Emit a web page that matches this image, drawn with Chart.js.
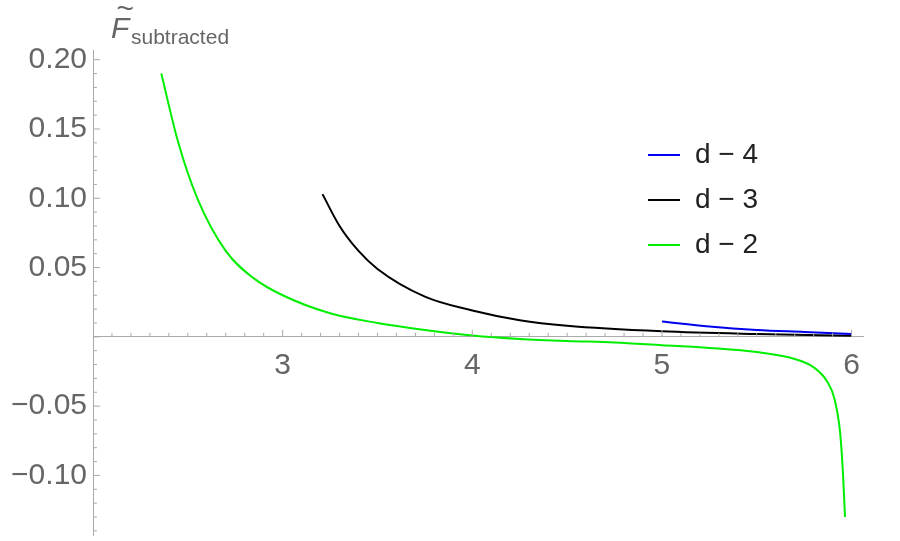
<!DOCTYPE html>
<html><head><meta charset="utf-8">
<script src="https://cdn.jsdelivr.net/npm/chart.js@4"></script>
<style>body{margin:0;background:#fff}#w{width:900px;height:541px}</style>
</head><body><div id="w"><canvas id="c"></canvas></div>
<script>
const greenD = [2.36,2.45,2.55,2.7,2.85,3.0,3.25,3.5,3.75,4.0,4.25,4.5,4.75,5.0,5.25,5.5,5.7,5.8,5.87,5.91,5.94,5.955,5.965];
const greenV = [0.19,0.14,0.10,0.062,0.042,0.030,0.017,0.010,0.005,0.001,-0.0015,-0.003,-0.004,-0.006,-0.008,-0.011,-0.016,-0.022,-0.032,-0.045,-0.07,-0.10,-0.13];
const blackD = [3.21,3.3,3.4,3.5,3.75,4.0,4.25,4.5,5.0,5.5,6.0];
const blackV = [0.103,0.08,0.062,0.049,0.029,0.019,0.012,0.008,0.004,0.002,0.0007];
const blueD = [5.0,5.25,5.5,5.75,6.0];
const blueV = [0.011,0.0075,0.005,0.0035,0.002];
const xTicks = [3,4,5,6];
const yTicks = [-0.10,-0.05,0.05,0.10,0.15,0.20];
const yLabels = ["\u22120.10","\u22120.05","0.05","0.10","0.15","0.20"];
const legendNames = ["d \u2212 4","d \u2212 3","d \u2212 2"];
const colors = ["#0000ee","#000000","#00ee00"];
const pts=(d,v)=>d.map((x,i)=>({x,y:v[i]}));
const F='"Liberation Sans", Arial, sans-serif';
const deco={id:'deco',afterDraw(ch){
 const c=ch.ctx,xs=ch.scales.x,ys=ch.scales.y;
 const x0=xs.getPixelForValue(2),y0=ys.getPixelForValue(0);
 c.save();c.strokeStyle='#aaa';c.lineWidth=1;
 for(let v=2.1;v<6.06;v+=0.1){const p=xs.getPixelForValue(v);const major=Math.abs(v-Math.round(v))<0.01;c.beginPath();c.moveTo(p,y0);c.lineTo(p,y0-(major?7:4));c.stroke();}
 for(let v=-0.14;v<0.207;v+=0.01){const p=ys.getPixelForValue(v);const major=Math.abs(v*20-Math.round(v*20))<0.01;c.beginPath();c.moveTo(x0,p);c.lineTo(x0+(major?7:4),p);c.stroke();}
 c.fillStyle='#666';c.font='30px '+F;c.textBaseline='middle';
 c.textAlign='center';xTicks.forEach(v=>c.fillText(String(v),xs.getPixelForValue(v),y0+29));
 c.textAlign='right';yTicks.forEach((v,i)=>c.fillText(yLabels[i],x0-6,ys.getPixelForValue(v)));
 c.textAlign='left';c.font='italic 30px '+F;c.fillText('d',906,342);
 c.fillText('F',111,30);c.fillText('~',116,10);
 c.font='21px '+F;c.fillText('subtracted',131,38);
 c.font='28px '+F;
 legendNames.forEach((n,i)=>{const y=155+i*45;c.strokeStyle=colors[i];c.lineWidth=2;c.beginPath();c.moveTo(648,y);c.lineTo(680,y);c.stroke();c.fillStyle='#222';c.fillText(n,695,y);});
 c.restore();}};
new Chart(document.getElementById('c'),{type:'scatter',
 data:{datasets:[
  {data:pts(blueD,blueV),borderColor:colors[0]},
  {data:pts(blackD,blackV),borderColor:colors[1]},
  {data:pts(greenD,greenV),borderColor:colors[2]}].map(d=>Object.assign(d,{showLine:true,pointRadius:0,borderWidth:2,cubicInterpolationMode:'monotone',fill:false}))},
 options:{responsive:true,maintainAspectRatio:false,animation:false,
  layout:{padding:{left:93,right:37,top:50,bottom:6}},
  plugins:{legend:{display:false},tooltip:{enabled:false}},
  scales:{
   x:{type:'linear',min:2,max:6.06,position:{y:0},grid:{display:false},border:{color:'#aaa'},ticks:{display:false}},
   y:{type:'linear',min:-0.143,max:0.207,position:{x:2},grid:{display:false},border:{color:'#aaa'},ticks:{display:false}}}},
 plugins:[deco]});
</script></body></html>
